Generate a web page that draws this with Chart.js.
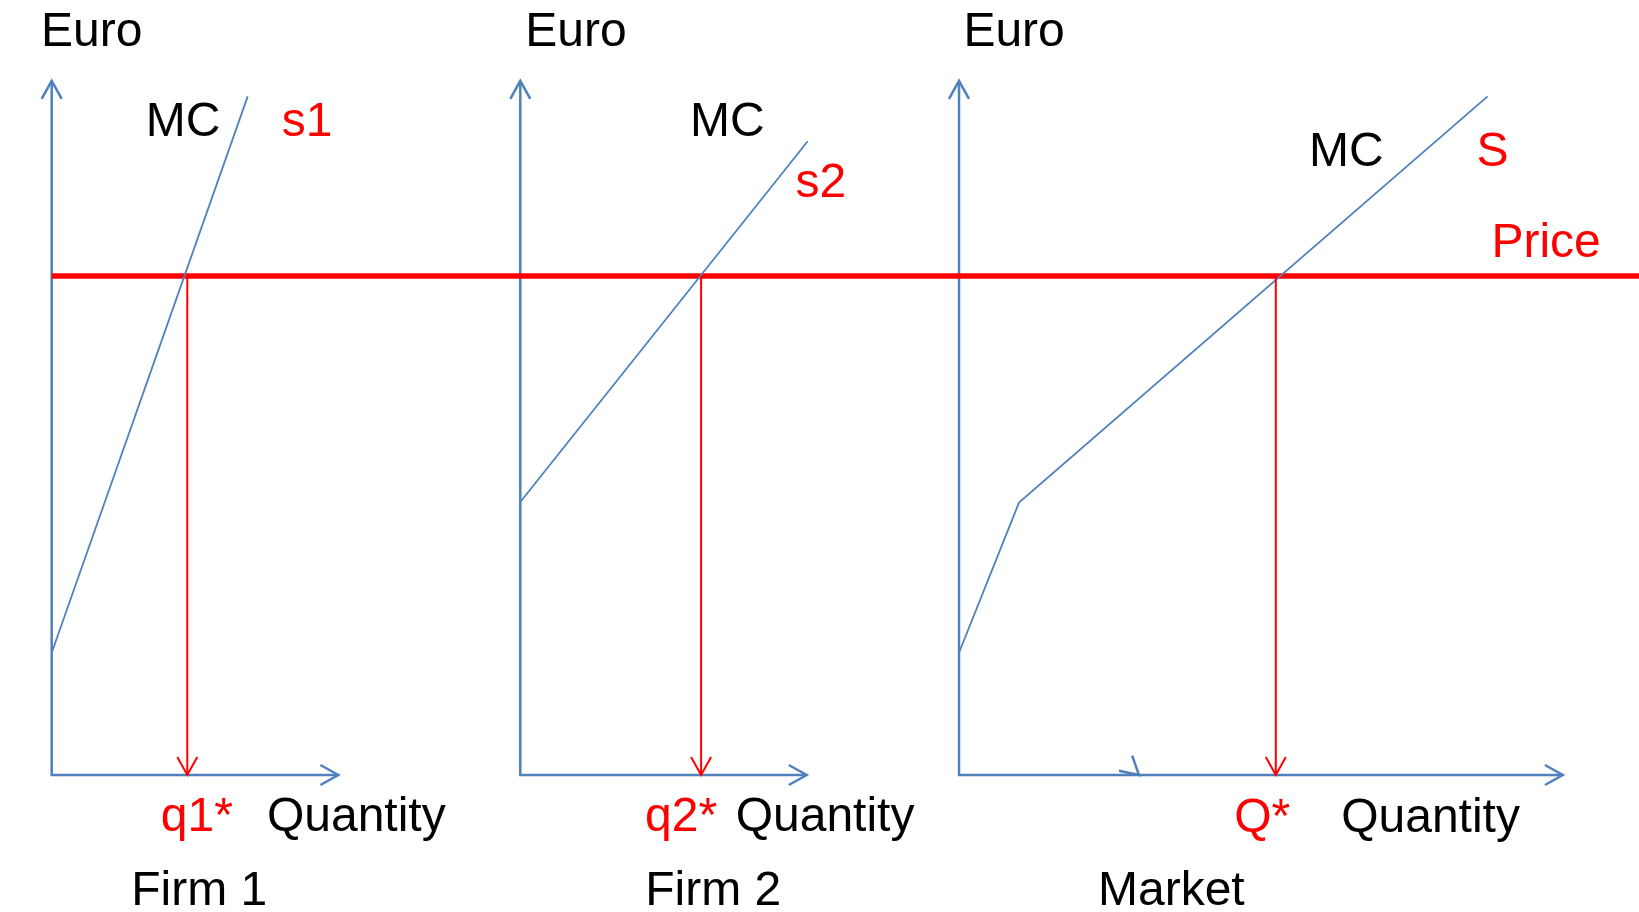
<!DOCTYPE html>
<html>
<head>
<meta charset="utf-8">
<title>Firm and market supply</title>
<script src="https://cdn.jsdelivr.net/npm/chart.js@4.4.1/dist/chart.umd.min.js"></script>
<style>
  html, body { margin: 0; padding: 0; background: #fff; }
  #wrap { width: 1639px; height: 912px; }
</style>
</head>
<body>
<div id="wrap"><canvas id="supply" width="1639" height="912"></canvas></div>
<script>
// market price, in euro
const price = 10;

// marginal cost curves, [quantity, euro]
const mcFirm1 = [[0, 2.45], [9.8, 13.6]];
const mcFirm2 = [[0, 5.47], [14.37, 12.7]];
const mcMarket = [[0, 2.45], [3.0, 5.46], [26.43, 13.6]];

// quantity supplied at the price
const q1 = 6.78;
const q2 = 9.04;
const qMarket = 15.84;

// axis extents
const euroAxisTop = 13.91;
const quantityAxisEnd = [14.33, 14.32, 30.19];
const marketTick = [[8.375, 0.22], [9.0, 0]];

// text: [text, panel, quantity, euro, red?]
const labels = [
  ['Euro', 0, -0.53, 14.615, false],
  ['Euro', 1, 0.25, 14.615, false],
  ['Euro', 2, 0.22, 14.615, false],
  ['MC', 0, 4.7, 12.81, false],
  ['s1', 0, 11.5, 12.81, true],
  ['MC', 1, 8.48, 12.81, false],
  ['s2', 1, 13.76, 11.59, true],
  ['MC', 2, 17.5, 12.21, false],
  ['S', 2, 25.87, 12.21, true],
  ['Price', 2, 26.62, 10.39, true],
  ['q1*', 0, 5.455, -1.116, true],
  ['Quantity', 0, 10.76, -1.116, false],
  ['q2*', 1, 6.235, -1.116, true],
  ['Quantity', 1, 10.77, -1.116, false],
  ['Q*', 2, 13.76, -1.136, true],
  ['Quantity', 2, 19.11, -1.136, false],
  ['Firm 1', 0, 3.975, -2.605, false],
  ['Firm 2', 1, 6.25, -2.605, false],
  ['Market', 2, 6.95, -2.605, false]
];

// layout: where each panel's origin sits and how big a unit is
const W = 1639, H = 912;
const panelLeft = [51.7, 520.3, 959];
const pxPerQ = 20;
const baseY = 775, pxPerEuro = 49.9;

const blue = '#4f81bd';
const red = '#ff0000';

const scales = {
  y: { type: 'linear', display: false, min: (baseY - H) / pxPerEuro, max: baseY / pxPerEuro }
};
panelLeft.forEach((left, i) => {
  scales['x' + i] = {
    type: 'linear', axis: 'x', display: false,
    min: -left / pxPerQ, max: (W - left) / pxPerQ
  };
});

// lower order is painted on top
function series(panel, pts, color, width, order, extra) {
  return Object.assign({
    xAxisID: 'x' + panel,
    yAxisID: 'y',
    data: pts.map(([x, y]) => ({ x, y })),
    borderColor: color,
    borderWidth: width,
    pointRadius: 0,
    showLine: true,
    fill: false,
    tension: 0,
    order: order
  }, extra || {});
}

const datasets = [];
// axes
for (let i = 0; i < 3; i++) {
  datasets.push(series(i, [[0, euroAxisTop], [0, 0], [quantityAxisEnd[i], 0]], blue, 2.5, 3, { arrow: 'both' }));
}
datasets.push(series(2, marketTick, blue, 2.5, 3, { arrow: 'end', showLine: false }));
// price line across all panels
datasets.push(series(0, [[0, price], [80, price]], red, 5.5, 2));
// marginal cost curves
datasets.push(series(0, mcFirm1, blue, 1.8, 1));
datasets.push(series(1, mcFirm2, blue, 1.8, 1));
datasets.push(series(2, mcMarket, blue, 1.8, 1));
// drop lines down to the quantity supplied
datasets.push(series(0, [[q1, price], [q1, 0]], red, 2, 0, { arrow: 'end' }));
datasets.push(series(1, [[q2, price], [q2, 0]], red, 2, 0, { arrow: 'end' }));
datasets.push(series(2, [[qMarket, price], [qMarket, 0]], red, 2, 0, { arrow: 'end' }));

// open V heads at line ends
const arrowHeads = {
  id: 'arrowHeads',
  afterDatasetsDraw(chart) {
    const ctx = chart.ctx;
    chart.data.datasets.forEach((ds, i) => {
      if (!ds.arrow) return;
      const pts = chart.getDatasetMeta(i).data;
      const heads = [[pts[pts.length - 2], pts[pts.length - 1]]];
      if (ds.arrow === 'both') heads.push([pts[1], pts[0]]);
      ctx.save();
      ctx.strokeStyle = ds.borderColor;
      ctx.lineWidth = ds.borderWidth;
      ctx.lineJoin = 'miter';
      heads.forEach(([from, to]) => {
        const a = Math.atan2(to.y - from.y, to.x - from.x);
        const len = 20.5, spread = 0.51;
        ctx.beginPath();
        ctx.moveTo(to.x - len * Math.cos(a - spread), to.y - len * Math.sin(a - spread));
        ctx.lineTo(to.x, to.y);
        ctx.lineTo(to.x - len * Math.cos(a + spread), to.y - len * Math.sin(a + spread));
        ctx.stroke();
      });
      ctx.restore();
    });
  }
};

const textLabels = {
  id: 'textLabels',
  afterDraw(chart) {
    const ctx = chart.ctx;
    ctx.save();
    ctx.font = '48px "Liberation Sans", Arial, sans-serif';
    ctx.textAlign = 'left';
    ctx.textBaseline = 'alphabetic';
    labels.forEach(([text, panel, q, e, isRed]) => {
      ctx.fillStyle = isRed ? red : '#000';
      ctx.fillText(text,
        chart.scales['x' + panel].getPixelForValue(q),
        chart.scales.y.getPixelForValue(e));
    });
    ctx.restore();
  }
};

new Chart(document.getElementById('supply'), {
  type: 'scatter',
  data: { datasets: datasets },
  options: {
    responsive: false,
    animation: false,
    events: [],
    layout: { padding: 0 },
    scales: scales,
    plugins: { legend: { display: false }, tooltip: { enabled: false } }
  },
  plugins: [arrowHeads, textLabels]
});
</script>
</body>
</html>
